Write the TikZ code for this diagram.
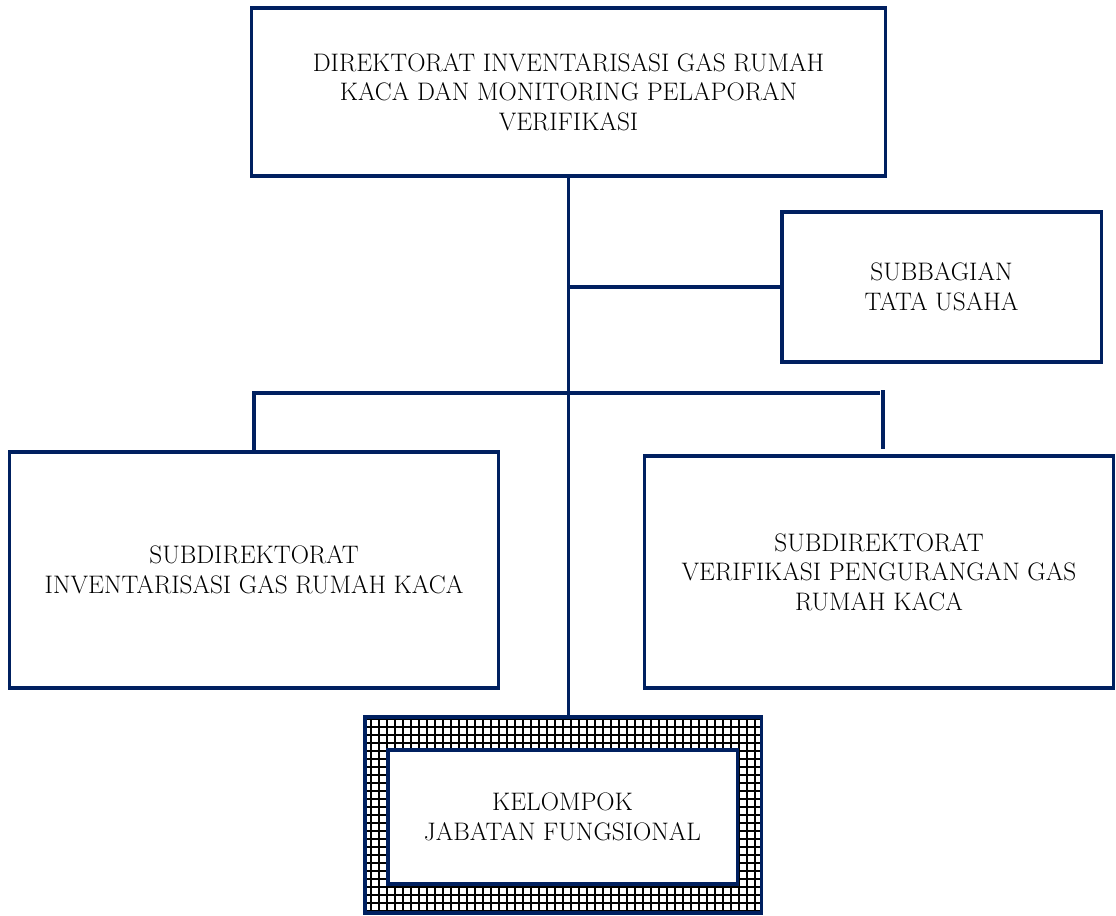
\documentclass[tikz,border=0pt]{standalone}
\usepackage{tikz}
\usetikzlibrary{positioning, calc}
\definecolor{orgnavy}{RGB}{0,32,96}
\tikzset{
  unitbox/.style={rectangle, draw=orgnavy, fill=white, line width=2.2pt,
    align=center, inner sep=0pt, font=\fontsize{18}{21}\selectfont},
  link/.style={draw=orgnavy, line width=2.2pt},
  gridline/.style={draw=black, line width=1.3pt}
}

\begin{document}
\begin{tikzpicture}[x=0.025cm, y=-0.025cm]
    \useasboundingbox (0,0) rectangle (1116,915);

    % Direktorat
    \node[unitbox, minimum width=15.825cm, minimum height=4.2cm] (dir) at (568.5,92)
      {DIREKTORAT INVENTARISASI GAS RUMAH\\KACA DAN MONITORING PELAPORAN\\VERIFIKASI};

    % Subbagian
    \node[unitbox, minimum width=7.975cm, minimum height=3.75cm] (tu) at (941.5,287)
      {SUBBAGIAN\\TATA USAHA};

    % Subdirektorat
    \node[unitbox, minimum width=12.2cm, minimum height=5.9cm] (subinv) at (254,570)
      {SUBDIREKTORAT\\INVENTARISASI GAS RUMAH KACA};
    \node[unitbox, minimum width=11.7cm, minimum height=5.8cm] (subver) at (879,572)
      {SUBDIREKTORAT\\VERIFIKASI PENGURANGAN GAS\\RUMAH KACA};

    % Kelompok jabatan fungsional
    \node[unitbox, minimum width=9.9cm, minimum height=4.9cm,
      path picture={\draw[gridline, step=0.2cm] (path picture bounding box.south west)
        grid (path picture bounding box.north east);}] (jabframe) at (563,815) {};
    \node[unitbox, minimum width=8.725cm, minimum height=3.35cm] (jab) at (562.5,817)
      {KELOMPOK\\JABATAN FUNGSIONAL};

    % Lines
    \coordinate (barR) at (880,393);
    \coordinate (stubtop) at (883,390);
    \coordinate (stubbot) at (883,449);

    \draw[link] (dir.south) -- (dir.south |- jabframe.north);
    \draw[link] (tu.west) -- (tu.west -| dir.south);
    \draw[link] (subinv.north) |- (barR);
    \draw[link] (stubtop) -- (stubbot);
\end{tikzpicture}
\end{document}
